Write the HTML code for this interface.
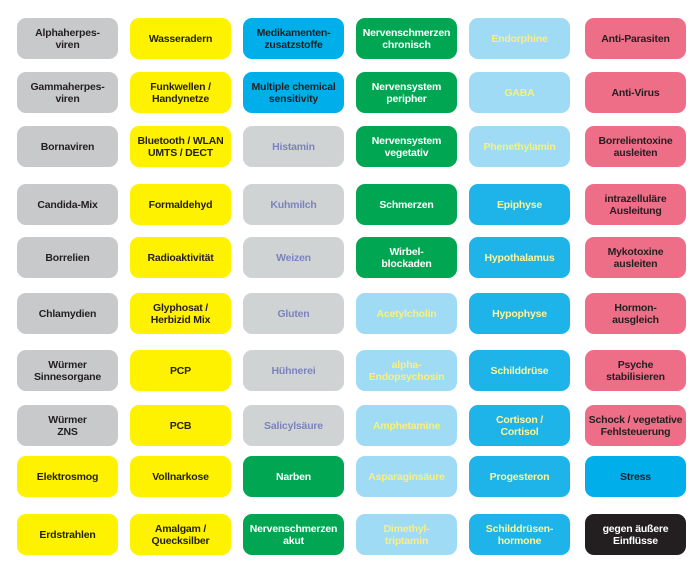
<!DOCTYPE html>
<html><head><meta charset="utf-8"><style>
body{margin:0;width:700px;height:584px;background:#fff;position:relative;overflow:hidden;font-family:"Liberation Sans",Arial,sans-serif}
.c{position:absolute;width:101px;height:41px;border-radius:9px;display:flex;align-items:center;justify-content:center;text-align:center;font-weight:bold;font-size:10.5px;line-height:12px;letter-spacing:-0.2px}
.g{background:#c8c9cb;color:#231f20}
.y{background:#fff200;color:#231f20}
.b{background:#00aeea;color:#231f20}
.lg{background:#d0d3d4;color:#7c83bd}
.gr{background:#00a651;color:#fff}
.lb{background:#a0dbf6;color:#f8f07a}
.mb{background:#1eb3e9;color:#fbf59a}
.p{background:#ef6e87;color:#231f20}
.k{background:#231f20;color:#fff}
</style></head><body>
<div id="g"></div>
<script>
var X=[17,130,243,356,469,585];
var Y=[18,72,126,184,237,293,350,405,456,514];
var d=[
[["Alphaherpes-<br>viren","g"],["Wasseradern","y"],["Medikamenten-<br>zusatzstoffe","b"],["Nervenschmerzen<br>chronisch","gr"],["Endorphine","lb"],["Anti-Parasiten","p"]],
[["Gammaherpes-<br>viren","g"],["Funkwellen /<br>Handynetze","y"],["Multiple chemical<br>sensitivity","b"],["Nervensystem<br>peripher","gr"],["GABA","lb"],["Anti-Virus","p"]],
[["Bornaviren","g"],["Bluetooth / WLAN<br>UMTS / DECT","y"],["Histamin","lg"],["Nervensystem<br>vegetativ","gr"],["Phenethylamin","lb"],["Borrelientoxine<br>ausleiten","p"]],
[["Candida-Mix","g"],["Formaldehyd","y"],["Kuhmilch","lg"],["Schmerzen","gr"],["Epiphyse","mb"],["intrazelluläre<br>Ausleitung","p"]],
[["Borrelien","g"],["Radioaktivität","y"],["Weizen","lg"],["Wirbel-<br>blockaden","gr"],["Hypothalamus","mb"],["Mykotoxine<br>ausleiten","p"]],
[["Chlamydien","g"],["Glyphosat /<br>Herbizid Mix","y"],["Gluten","lg"],["Acetylcholin","lb"],["Hypophyse","mb"],["Hormon-<br>ausgleich","p"]],
[["Würmer<br>Sinnesorgane","g"],["PCP","y"],["Hühnerei","lg"],["alpha-<br>Endopsychosin","lb"],["Schilddrüse","mb"],["Psyche<br>stabilisieren","p"]],
[["Würmer<br>ZNS","g"],["PCB","y"],["Salicylsäure","lg"],["Amphetamine","lb"],["Cortison /<br>Cortisol","mb"],["Schock / vegetative<br>Fehlsteuerung","p"]],
[["Elektrosmog","y"],["Vollnarkose","y"],["Narben","gr"],["Asparaginsäure","lb"],["Progesteron","mb"],["Stress","b"]],
[["Erdstrahlen","y"],["Amalgam /<br>Quecksilber","y"],["Nervenschmerzen<br>akut","gr"],["Dimethyl-<br>triptamin","lb"],["Schilddrüsen-<br>hormone","mb"],["gegen äußere<br>Einflüsse","k"]]];
var h="";
for(var r=0;r<10;r++)for(var c=0;c<6;c++)h+='<div class="c '+d[r][c][1]+'" style="left:'+X[c]+'px;top:'+Y[r]+'px">'+d[r][c][0]+'</div>';
document.getElementById("g").innerHTML=h;
</script>
</body></html>
